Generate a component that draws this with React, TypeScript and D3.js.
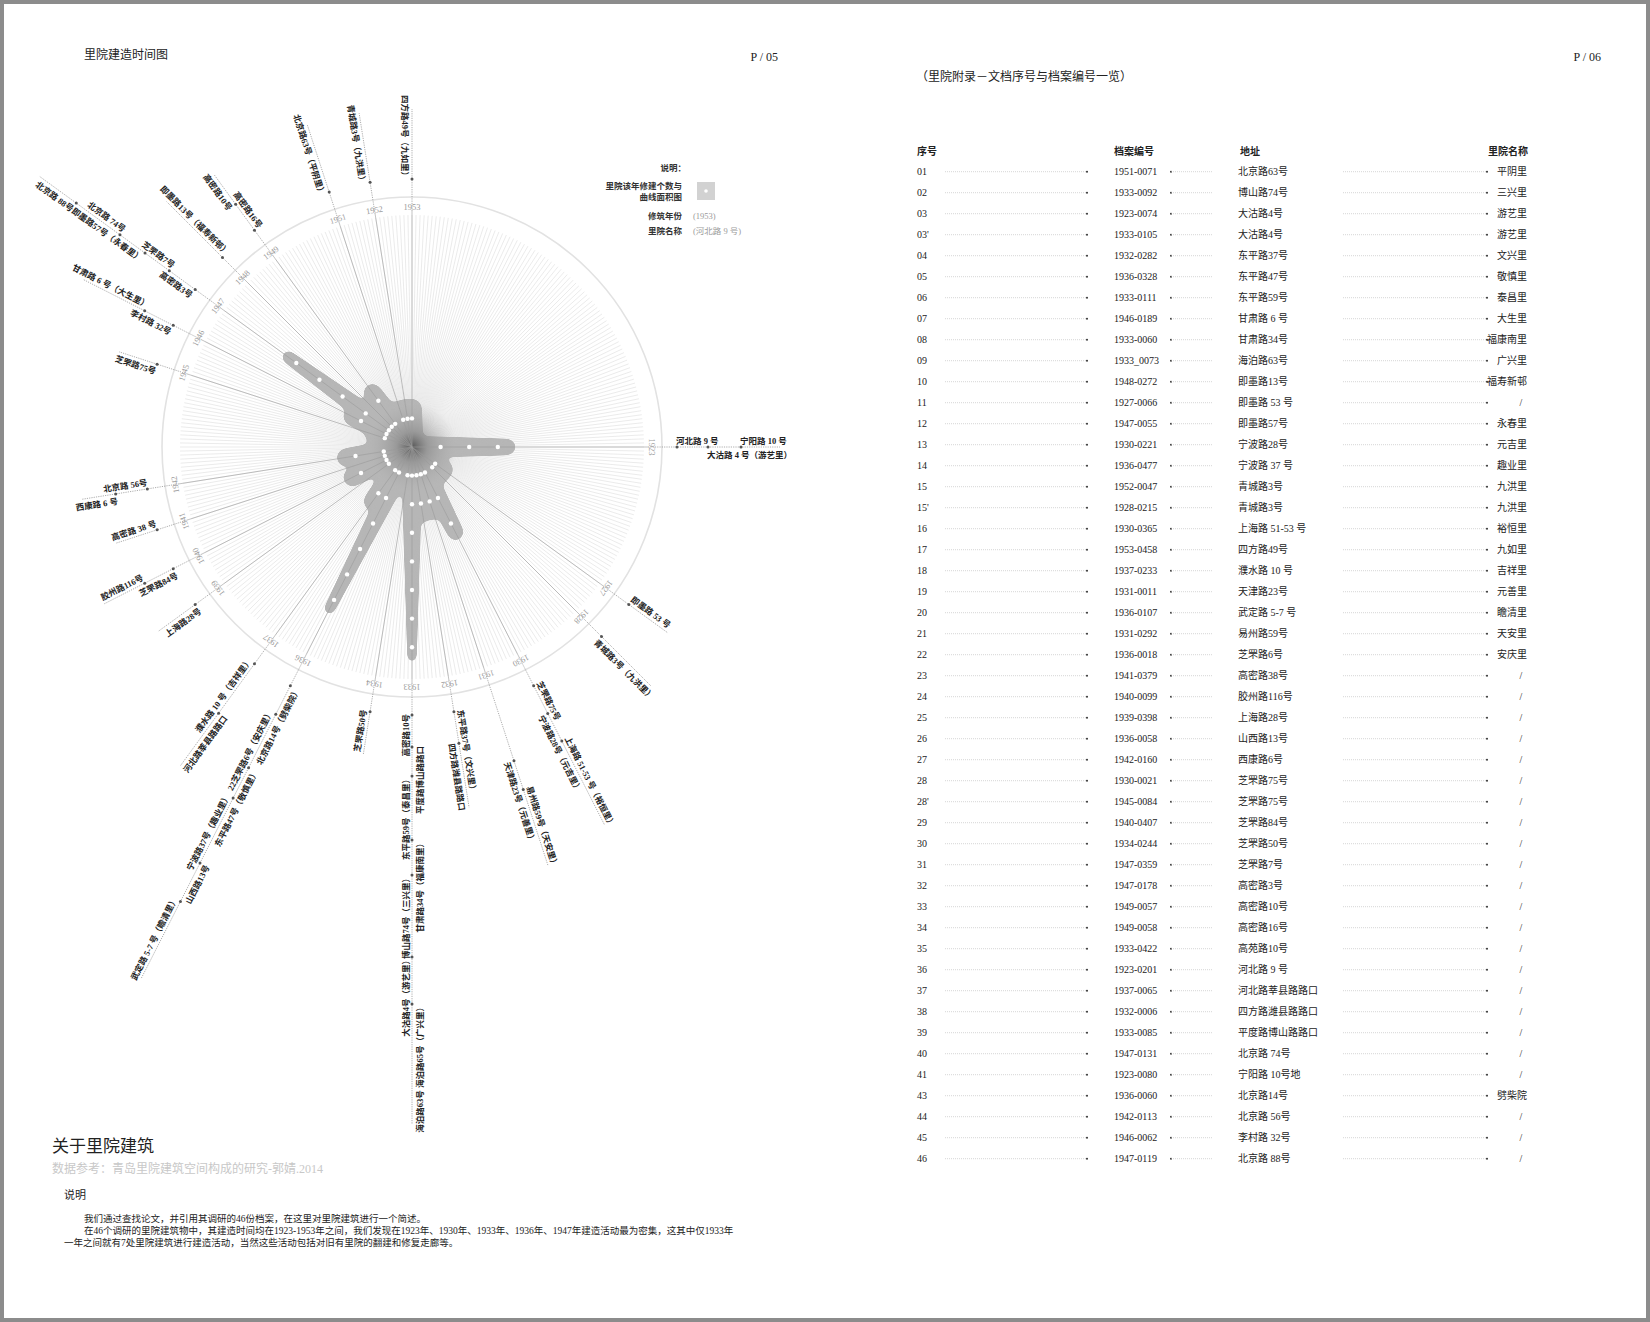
import React from 'react';
import * as d3 from 'd3';

// ---------- radial chart data ----------
const years = [1923, 1927, 1928, 1930, 1931, 1932, 1933, 1934, 1936, 1937, 1939, 1940, 1941, 1942, 1945, 1946, 1947, 1948, 1949, 1951, 1952, 1953];
const counts = [3, 1, 1, 3, 2, 2, 7, 1, 6, 2, 1, 2, 1, 2, 1, 2, 5, 1, 2, 1, 1, 1];
const spokeEnds = [368, 316, 338, 424, 440, 365, 677, 311, 596, 394, 313, 346, 311, 334, 308, 369, 460, 347, 337, 339, 338, 338];

const labelYears = [
  1923, 1923, 1923, 1927, 1928, 1930, 1930, 1930, 1931, 1931, 1932, 1932,
  1933, 1933, 1933, 1933, 1933, 1933, 1933, 1934,
  1936, 1936, 1936, 1936, 1936, 1936, 1937, 1937, 1939, 1940, 1940, 1941, 1942, 1942,
  1945, 1946, 1946, 1947, 1947, 1947, 1947, 1947, 1948, 1949, 1949, 1951, 1952, 1953,
];
const labelTexts = [
  '河北路 9 号', '大沽路 4 号（游艺里）', '宁阳路 10 号', '即墨路 53 号', '青城路3号（九洪里）',
  '芝罘路75号', '宁波路28号（元吉里）', '上海路 51-53 号（裕恒里）', '天津路23号（元善里）', '易州路59号（天安里）',
  '东平路37号（文兴里）', '四方路潍县路路口',
  '高密路10号', '平度路博山路路口', '东平路59号（泰昌里）', '甘肃路34号（福康南里）', '博山路74号（三兴里）',
  '大沽路4号（游艺里）', '海泊路63号 海泊路65号（广兴里）', '芝罘路50号',
  '北京路14号（劈柴院）', '22芝罘路6号（安庆里）', '东平路47号（敬慎里）', '宁波路37号（趣业里）', '山西路13号',
  '武定路 5-7 号（瞻清里）', '濮水路 10 号（吉祥里）', '河北路莘县路路口', '上海路28号', '芝罘路84号', '胶州路116号',
  '高密路 38 号', '北京路 56号', '西康路 6 号', '芝罘路75号', '李村路 32号', '甘肃路 6 号（大生里）',
  '高密路3号', '芝罘路7号', '即墨路57号（永春里）', '北京路 74号', '北京路 88号', '即墨路13号（福寿新邨）',
  '高密路16号', '高密路10号', '北京路63号（平阴里）', '青城路3号（九洪里）', '四方路49号（九如里）',
];
const labelRadii = [
  265, 296, 329, 268, 268, 268, 299, 330, 330, 360, 268, 300,
  268, 300, 329, 393, 428, 510, 557, 268,
  268, 300, 360, 394, 467, 510, 268, 329, 268, 268, 300, 268, 268, 300,
  268, 268, 300, 268, 300, 330, 361, 415, 268, 268, 300, 268, 268, 268,
];
const labelSides = [
  'a', 'b', 'a', 'a', 'b', 'a', 'b', 'a', 'b', 'a', 'a', 'b',
  'a', 'b', 'a', 'b', 'a', 'a', 'b', 'a',
  'b', 'a', 'b', 'a', 'b', 'a', 'a', 'b', 'b', 'b', 'a', 'a', 'a', 'b',
  'b', 'b', 'a', 'b', 'a', 'b', 'a', 'b', 'a', 'a', 'b', 'b', 'b', 'b',
];

// ---------- appendix table data ----------
const rowNo = ['01', '02', '03', "03'", '04', '05', '06', '07', '08', '09', '10', '11', '12', '13', '14', '15', "15'", '16', '17', '18', '19', '20', '21', '22', '23', '24', '25', '26', '27', '28', "28'", '29', '30', '31', '32', '33', '34', '35', '36', '37', '38', '39', '40', '41', '43', '44', '45', '46'];
const archiveNo = ['1951-0071', '1933-0092', '1923-0074', '1933-0105', '1932-0282', '1936-0328', '1933-0111', '1946-0189', '1933-0060', '1933_0073', '1948-0272', '1927-0066', '1947-0055', '1930-0221', '1936-0477', '1952-0047', '1928-0215', '1930-0365', '1953-0458', '1937-0233', '1931-0011', '1936-0107', '1931-0292', '1936-0018', '1941-0379', '1940-0099', '1939-0398', '1936-0058', '1942-0160', '1930-0021', '1945-0084', '1940-0407', '1934-0244', '1947-0359', '1947-0178', '1949-0057', '1949-0058', '1933-0422', '1923-0201', '1937-0065', '1932-0006', '1933-0085', '1947-0131', '1923-0080', '1936-0060', '1942-0113', '1946-0062', '1947-0119'];
const address = ['北京路63号', '博山路74号', '大沽路4号', '大沽路4号', '东平路37号', '东平路47号', '东平路59号', '甘肃路 6 号', '甘肃路34号', '海泊路63号', '即墨路13号', '即墨路 53 号', '即墨路57号', '宁波路28号', '宁波路 37 号', '青城路3号', '青城路3号', '上海路 51-53 号', '四方路49号', '濮水路 10 号', '天津路23号', '武定路 5-7 号', '易州路59号', '芝罘路6号', '高密路38号', '胶州路116号', '上海路28号', '山西路13号', '西康路6号', '芝罘路75号', '芝罘路75号', '芝罘路84号', '芝罘路50号', '芝罘路7号', '高密路3号', '高密路10号', '高密路16号', '高苑路10号', '河北路 9 号', '河北路莘县路路口', '四方路潍县路路口', '平度路博山路路口', '北京路 74号', '宁阳路 10号地', '北京路14号', '北京路 56号', '李村路 32号', '北京路 88号'];
const courtName = ['平阴里', '三兴里', '游艺里', '游艺里', '文兴里', '敬慎里', '泰昌里', '大生里', '福康南里', '广兴里', '福寿新邨', '/', '永春里', '元吉里', '趣业里', '九洪里', '九洪里', '裕恒里', '九如里', '吉祥里', '元善里', '瞻清里', '天安里', '安庆里', '/', '/', '/', '/', '/', '/', '/', '/', '/', '/', '/', '/', '/', '/', '/', '/', '/', '/', '/', '/', '劈柴院', '/', '/', '/'];

const paragraph = [
  '我们通过查找论文，并引用其调研的46份档案，在这里对里院建筑进行一个简述。',
  '在46个调研的里院建筑物中，其建造时间均在1923-1953年之间，我们发现在1923年、1930年、1933年、1936年、1947年建造活动最为密集，这其中仅1933年',
  '一年之间就有7处里院建筑进行建造活动，当然这些活动包括对旧有里院的翻建和修复走廊等。',
];

const FONT = "'Liberation Serif', 'Noto Sans CJK SC', serif";
const W = 1650;
const H = 1322;
const CX = 412;
const CY = 447;
const R = 250;

const angle = d3.scaleLinear().domain([1923, 1953]).range([0, 270]);
const dotR = d3.scaleLinear().domain([0, 1]).range([0, 28.6]);
const rad = (a: number) => (a * Math.PI) / 180;
const pt = (a: number, r: number): [number, number] => [CX + r * Math.cos(rad(a)), CY + r * Math.sin(rad(a))];

const armPath = (n: number) => {
  const L = dotR(n) + 10;
  const hw = (r: number) => Math.max(4.5, 11 - 0.032 * r);
  const h0 = hw(0);
  const h1 = hw(L);
  return `M0,${-h0} L${L},${-h1} A${h1},${h1} 0 0 1 ${L},${h1} L0,${h0} Z`;
};

const RadialChart = () => {
  const rays = d3.range(0, 360, 1);
  return (
    <g>
      <defs>
        <filter id="goo" x="0" y="0" width={W} height={H} filterUnits="userSpaceOnUse" colorInterpolationFilters="sRGB">
          <feGaussianBlur in="SourceGraphic" stdDeviation="3" result="b" />
          <feColorMatrix in="b" type="matrix" values="1 0 0 0 0  0 1 0 0 0  0 0 1 0 0  0 0 0 14 -6" />
        </filter>
        <radialGradient id="core">
          <stop offset="0%" stopColor="#454545" stopOpacity="0.85" />
          <stop offset="35%" stopColor="#777" stopOpacity="0.45" />
          <stop offset="100%" stopColor="#aaa" stopOpacity="0" />
        </radialGradient>
      </defs>

      {/* fine rays */}
      <g stroke="#d6d6d6" strokeWidth={0.5}>
        {rays.map((a) => {
          const [x, y] = pt(a, 232);
          return <line key={a} x1={CX} y1={CY} x2={x} y2={y} />;
        })}
      </g>
      <circle cx={CX} cy={CY} r={R} fill="none" stroke="#e2e2e2" strokeWidth={1.6} />

      {/* area shape */}
      <g filter="url(#goo)" fill="#b6b6b6">
        <circle cx={CX} cy={CY} r={14} />
        {years.map((yr, i) => (
          <path key={yr} d={armPath(counts[i])} transform={`translate(${CX},${CY}) rotate(${angle(yr)})`} />
        ))}
      </g>
      <circle cx={CX} cy={CY} r={45} fill="url(#core)" />

      {/* year spokes */}
      {years.map((yr, i) => {
        const a = angle(yr);
        const [x1, y1] = pt(a, R - 14);
        const [x2, y2] = pt(a, spokeEnds[i]);
        return (
          <g key={yr}>
            <line x1={CX} y1={CY} x2={x1} y2={y1} stroke="#9a9a9a" strokeWidth={0.6} />
            <line x1={x1} y1={y1} x2={x2} y2={y2} stroke="#8a8a8a" strokeWidth={0.7} strokeDasharray="1.2 1.1" />
          </g>
        );
      })}

      {/* white dots: one per building */}
      {years.map((yr, i) =>
        d3.range(1, counts[i] + 1).map((k) => {
          const [x, y] = pt(angle(yr), dotR(k));
          return <circle key={`${yr}-${k}`} cx={x} cy={y} r={2.2} fill="#fff" />;
        })
      )}

      {/* year labels */}
      {years.map((yr) => {
        const a = angle(yr);
        const [x, y] = pt(a, 237);
        return (
          <text key={yr} x={x} y={y} transform={`rotate(${a + 90},${x},${y})`} textAnchor="middle"
            fontFamily={FONT} fontSize={8.5} fill="#9a9a9a">{yr}</text>
        );
      })}

      {/* building labels */}
      {labelTexts.map((t, i) => {
        const a = angle(labelYears[i]);
        const r = labelRadii[i];
        const [dx, dy] = pt(a, r);
        const right = a < 90 || a > 270;
        const rot = right ? a : a - 180;
        const ty = labelSides[i] === 'a' ? -3.5 : 10.5;
        return (
          <g key={i}>
            <circle cx={dx} cy={dy} r={1.5} fill="#555" />
            <g transform={`translate(${CX},${CY}) rotate(${rot})`}>
              <text x={right ? r - 1 : -(r - 1)} y={ty} textAnchor={right ? 'start' : 'end'}
                fontFamily={FONT} fontSize={8.5} fontWeight={700} fill="#222">{t}</text>
            </g>
          </g>
        );
      })}
    </g>
  );
};

const Legend = () => (
  <g fontFamily={FONT} fontSize={8.5} fontWeight={700} fill="#333">
    <text x={686} y={171} textAnchor="end">说明：</text>
    <text x={682} y={189} textAnchor="end">里院该年修建个数与</text>
    <text x={682} y={200} textAnchor="end">曲线面积图</text>
    <rect x={697} y={182} width={18} height={18} fill="#d2d2d2" />
    <circle cx={706} cy={191} r={1.8} fill="#fff" />
    <text x={682} y={219} textAnchor="end">修筑年份</text>
    <text x={693} y={219} fill="#9a9a9a" fontWeight={400}>(1953)</text>
    <text x={682} y={234} textAnchor="end">里院名称</text>
    <text x={693} y={234} fill="#9a9a9a" fontWeight={400}>(河北路 9 号)</text>
  </g>
);

const Table = () => {
  const y0 = 171.7;
  const step = 21;
  return (
    <g fontFamily={FONT} fontSize={10} fill="#222">
      <g fontWeight={700}>
        <text x={917} y={155}>序号</text>
        <text x={1114} y={155}>档案编号</text>
        <text x={1240} y={155}>地址</text>
        <text x={1528} y={155} textAnchor="end">里院名称</text>
      </g>
      {rowNo.map((n, i) => {
        const y = y0 + i * step;
        const name = courtName[i];
        return (
          <g key={i}>
            <text x={917} y={y + 3.5}>{n}</text>
            <line x1={945} x2={1087} y1={y} y2={y} stroke="#bbb" strokeWidth={0.6} strokeDasharray="1 1" />
            <circle cx={1087} cy={y} r={1} fill="#333" />
            <text x={1114} y={y + 3.5}>{archiveNo[i]}</text>
            <circle cx={1171} cy={y} r={1} fill="#333" />
            <line x1={1171} x2={1212} y1={y} y2={y} stroke="#bbb" strokeWidth={0.6} strokeDasharray="1 1" />
            <text x={1238} y={y + 3.5}>{address[i]}</text>
            <line x1={1343} x2={1487} y1={y} y2={y} stroke="#bbb" strokeWidth={0.6} strokeDasharray="1 1" />
            <circle cx={1487} cy={y} r={1} fill="#333" />
            {name === '/' ? (
              <text x={1521} y={y + 3.5} textAnchor="middle">/</text>
            ) : (
              <text x={1527} y={y + 3.5} textAnchor="end">{name}</text>
            )}
          </g>
        );
      })}
    </g>
  );
};

const App = () => (
  <svg width={W} height={H} style={{ position: 'absolute', left: 0, top: 0, background: '#fff' }}>
    <rect x={0} y={0} width={W} height={H} fill="#fff" />
    <rect x={2} y={2} width={W - 4} height={H - 4} fill="none" stroke="#8c8c8c" strokeWidth={4} />

    <g fontFamily={FONT} fontSize={12} fill="#222">
      <text x={84} y={59}>里院建造时间图</text>
      <text x={778} y={61} textAnchor="end">P / 05</text>
      <text x={1601} y={61} textAnchor="end">P / 06</text>
      <text x={916} y={81}>（里院附录－文档序号与档案编号一览）</text>
    </g>

    <RadialChart />
    <Legend />
    <Table />

    <g fontFamily={FONT} fill="#222">
      <text x={52} y={1152} fontSize={17}>关于里院建筑</text>
      <text x={52} y={1173} fontSize={12} fill="#c8c8c8">数据参考：青岛里院建筑空间构成的研究-郭婧.2014</text>
      <text x={64} y={1199} fontSize={11}>说明</text>
      <text x={84} y={1222} fontSize={9.5}>{paragraph[0]}</text>
      <text x={84} y={1234} fontSize={9.5}>{paragraph[1]}</text>
      <text x={64} y={1246} fontSize={9.5}>{paragraph[2]}</text>
    </g>
  </svg>
);

export default App;
